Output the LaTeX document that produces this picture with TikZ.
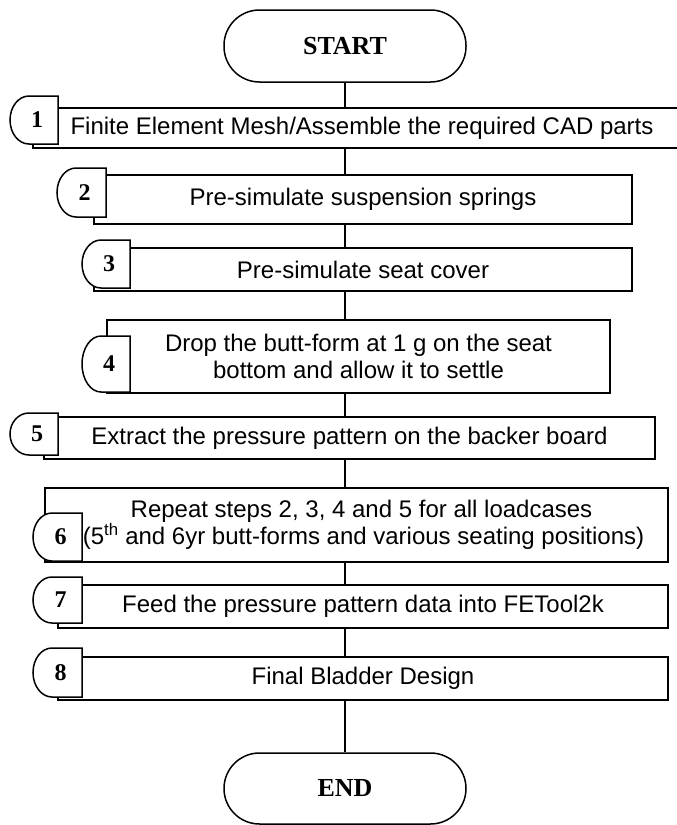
\documentclass[tikz,border=0pt]{standalone}
\usepackage{fontspec}
\setmainfont{Liberation Sans}
\newfontfamily\timesf{Liberation Serif}
\newcommand{\steptab}[6]{%
  \draw[tabline] (#4,#3) -- ({#2+19},#3)
    arc[start angle=270,end angle=90,x radius=19,y radius={(#5-#3)/2}]
    -- (#4,#5) -- cycle;
  \node[tabnum] (#1) at ({(#2+#4)/2+3},{(#3+#5)/2}) {#6};}
\begin{document}
\begin{tikzpicture}[x=1pt,y=-1pt,
  box/.style={draw,line width=1.5pt,fill=white,inner sep=0pt,align=center,
    font=\fontsize{24}{27}\selectfont},
  term/.style={draw,line width=1.5pt,rounded corners=35.5pt,minimum width=242pt,
    minimum height=72pt,inner sep=0pt,font=\timesf\bfseries\fontsize{26}{30}\selectfont},
  tabline/.style={draw,line width=1.5pt,fill=white},
  tabnum/.style={inner sep=0pt,font=\timesf\bfseries\fontsize{24}{28}\selectfont},
  conn/.style={line width=1.5pt}]
\useasboundingbox (0,0) rectangle (677,825);
% terminals
\node[term] (start) at (345,46) {START};
\node[term, minimum height=71pt] (end) at (345,788.5) {END};
% boxes
\node[box,minimum width=658pt,minimum height=40pt] (b1) at (362,128)
  {Finite Element Mesh/Assemble the required CAD parts};
\node[box,minimum width=538pt,minimum height=49pt] (b2) at (363,199.5)
  {Pre-simulate suspension springs};
\node[box,minimum width=538pt,minimum height=43pt] (b3) at (363,269.5)
  {Pre-simulate seat cover};
\node[box,minimum width=503pt,minimum height=73pt] (b4) at (358.5,356.5)
  {Drop the butt-form at 1 g on the seat\\bottom and allow it to settle};
\node[box,minimum width=611pt,minimum height=42pt] (b5) at (349.5,438)
  {Extract the pressure pattern on the backer board};
\node[box,minimum width=623pt,minimum height=74pt] (b6) at (356.5,525)
  {\hspace*{10pt}Repeat steps 2, 3, 4 and 5 for all loadcases\\
   \hspace*{14pt}(5\textsuperscript{th} and 6yr butt-forms and various seating positions)};
\node[box,minimum width=610pt,minimum height=43pt] (b7) at (363,606.5)
  {Feed the pressure pattern data into FETool2k};
\node[box,minimum width=610pt,minimum height=43pt] (b8) at (363,678.5)
  {Final Bladder Design};
% tabs
\steptab{t1}{10}{96}{58}{144}{1}
\steptab{t2}{57}{168}{106}{217}{2}
\steptab{t3}{82}{240}{130}{288}{3}
\steptab{t4}{82}{336}{130}{392}{4}
\steptab{t5}{10}{413}{58}{455}{5}
\steptab{t6}{33}{513}{82}{561}{6}
\steptab{t7}{33}{577}{82}{623}{7}
\steptab{t8}{33}{648}{82}{697}{8}
% connectors
\draw[conn] (start.south) -- (b1.north -| start);
\draw[conn] (b1.south -| start) -- (b2.north -| start);
\draw[conn] (b2.south -| start) -- (b3.north -| start);
\draw[conn] (b3.south -| start) -- (b4.north -| start);
\draw[conn] (b4.south -| start) -- (b5.north -| start);
\draw[conn] (b5.south -| start) -- (b6.north -| start);
\draw[conn] (b6.south -| start) -- (b7.north -| start);
\draw[conn] (b7.south -| start) -- (b8.north -| start);
\draw[conn] (b8.south -| start) -- (end.north);
\end{tikzpicture}
\end{document}
